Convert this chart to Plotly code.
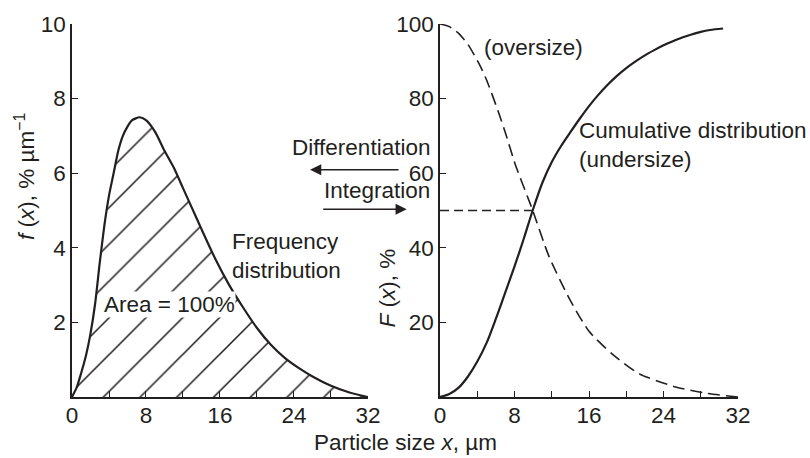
import plotly.graph_objects as go

# ---- data ----
fx_x = [0, 0.5, 1, 1.5, 2, 2.5, 3, 3.5, 4, 4.5, 5, 5.5, 6, 6.5, 7.3, 8, 9, 10, 11, 12,
        13, 14, 15.5, 17, 18.5, 20, 21.5, 23, 24.5, 26, 28, 30, 32]
fx_y = [0, 0.25, 0.65, 1.1, 1.7, 2.5, 3.6, 4.6, 5.4, 6.0, 6.6, 7.0, 7.25, 7.42, 7.5, 7.42,
        7.1, 6.6, 6.15, 5.6, 5.05, 4.5, 3.7, 3.0, 2.4, 1.85, 1.4, 1.05, 0.78, 0.55, 0.3, 0.12, 0]

under_x = [0, 1, 2, 3, 4, 5, 6, 7, 8, 9, 10, 11, 12, 13, 14, 15, 16, 17, 18, 19, 20, 21,
           22, 23, 24, 25, 26, 27, 28, 29, 30.4]
under_y = [0, 0.8, 2.5, 5.5, 9.5, 14.5, 21, 28, 35, 42.5, 50.4, 57.5, 63, 67.3, 71, 74.6,
           78, 81, 83.7, 86.1, 88.2, 90, 91.6, 93, 94.3, 95.4, 96.4, 97.2, 97.9, 98.4, 98.8]

over_x = [0, 1, 2, 3, 4.2, 5, 6.3, 7, 8.1, 9.9, 11.7, 13.9, 16, 18.5, 21.4, 25.3, 28.6, 32]
over_y = [100, 99.3, 97.5, 94.5, 89.3, 85, 76.2, 71, 62.2, 50.4, 37.7, 26.3, 17.6, 11.5,
          6.2, 2.7, 1.0, 0]

median_x = [0, 9.9]
median_y = [50, 50]

x_tickvals = [0, 4, 8, 12, 16, 20, 24, 28, 32]
x_ticktext = ['0', '', '8', '', '16', '', '24', '', '32']
left_yticks = [2, 4, 6, 8, 10]
right_yticks = [20, 40, 60, 80, 100]

INK = '#231f20'
FONT = 'Liberation Sans, Arial, sans-serif'
FS = 22.5

fig = go.Figure()

fig.add_trace(go.Scatter(
    x=fx_x, y=fx_y, xaxis='x', yaxis='y', mode='lines',
    line=dict(color=INK, width=2.2, shape='spline', smoothing=0.6),
    fill='tozeroy',
    fillpattern=dict(shape='/', size=26, solidity=0.06, fgcolor=INK, bgcolor='white',
                     fillmode='replace'),
    hoverinfo='skip', showlegend=False))

fig.add_trace(go.Scatter(
    x=under_x, y=under_y, xaxis='x2', yaxis='y2', mode='lines',
    line=dict(color=INK, width=2.2, shape='spline', smoothing=0.8),
    hoverinfo='skip', showlegend=False))

fig.add_trace(go.Scatter(
    x=over_x, y=over_y, xaxis='x2', yaxis='y2', mode='lines',
    line=dict(color=INK, width=1.6, shape='spline', smoothing=0.6, dash='12px,6px'),
    hoverinfo='skip', showlegend=False))

fig.add_trace(go.Scatter(
    x=median_x, y=median_y, xaxis='x2', yaxis='y2', mode='lines',
    line=dict(color=INK, width=1.6, dash='9px,5px'),
    hoverinfo='skip', showlegend=False))

axis_common = dict(showgrid=False, zeroline=False, showline=True, linecolor=INK,
                   linewidth=1.6, tickcolor=INK, tickwidth=1.4, ticklen=6, ticks='inside',
                   tickfont=dict(family=FONT, size=FS, color=INK), fixedrange=True)

fig.update_layout(
    width=810, height=458,
    margin=dict(l=72, r=72, t=19, b=61),
    paper_bgcolor='white', plot_bgcolor='white',
    xaxis=dict(domain=[0, 0.4444], range=[0, 32], anchor='y', ticklabelstandoff=-3,
               tickvals=x_tickvals, ticktext=x_ticktext, **axis_common),
    yaxis=dict(domain=[0, 1], range=[0, 10], anchor='x',
               tickvals=left_yticks, **axis_common),
    xaxis2=dict(domain=[0.5526, 1], range=[0, 32], anchor='y2', ticklabelstandoff=-3,
                tickvals=x_tickvals, ticktext=x_ticktext, **axis_common),
    yaxis2=dict(domain=[0, 1], range=[0, 100], anchor='x2',
                tickvals=right_yticks, **axis_common),
    font=dict(family=FONT, size=FS, color=INK),
)

txt = dict(family=FONT, size=FS, color=INK)
ann = [
    dict(x=10.54, y=2.49, xref='x', yref='y', text='Area = 100%', showarrow=False,
         xanchor='center', yanchor='middle', bgcolor='white', borderpad=0, font=txt),
    dict(x=17.1, y=3.77, xref='x', yref='y', text='Frequency<br>distribution',
         showarrow=False, xanchor='left', yanchor='middle', align='left', font=txt),
    dict(x=4.5, y=93.7, xref='x2', yref='y2', text='(oversize)', showarrow=False,
         xanchor='left', yanchor='middle', font=txt),
    dict(x=14.7, y=67.6, xref='x2', yref='y2', text='Cumulative distribution<br>(undersize)',
         showarrow=False, xanchor='left', yanchor='middle', align='left', font=txt),
    dict(x=0.5405, y=0.6693, xref='paper', yref='paper', text='Differentiation',
         showarrow=False, xanchor='right', yanchor='middle', font=txt),
    dict(x=0.5405, y=0.5529, xref='paper', yref='paper', text='Integration',
         showarrow=False, xanchor='right', yanchor='middle', font=txt),
    dict(x=0.3574, y=0.6093, ax=90, ay=0, xref='paper', yref='paper',
         text='', showarrow=True, arrowhead=2, arrowsize=1.6, arrowwidth=1.4, arrowcolor=INK),
    dict(x=0.5026, y=0.5034, ax=-85, ay=0, xref='paper', yref='paper',
         text='', showarrow=True, arrowhead=2, arrowsize=1.6, arrowwidth=1.4, arrowcolor=INK),
    dict(x=0.473, y=0.291, xref='paper', yref='paper', text='<i>F</i> (<i>x</i>), %',
         showarrow=False, xanchor='center', yanchor='middle', textangle=-90, font=txt),
    dict(x=-0.0706, y=0.5926, xref='paper', yref='paper',
         text='<i>f</i> (<i>x</i>), % µm<sup>−1</sup>', showarrow=False,
         xanchor='center', yanchor='middle', textangle=-90, font=txt),
    dict(x=0.5, y=-0.122, xref='paper', yref='paper', xanchor='center', yanchor='middle',
         text='Particle size <i>x</i>, µm', showarrow=False, font=txt),
]
fig.update_layout(annotations=ann)

fig.write_html('out.html')
